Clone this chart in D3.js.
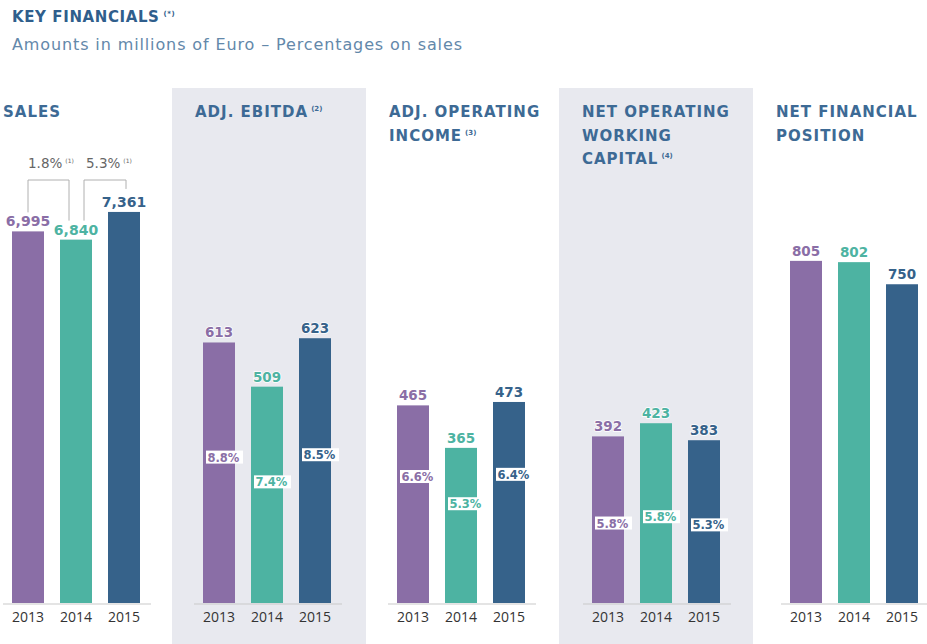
<!DOCTYPE html>
<html>
<head>
<meta charset="utf-8">
<script src="https://cdn.jsdelivr.net/npm/d3@7"></script>
<style>
  body { margin: 0; background: #fff; }
  svg { display: block; font-family: "DejaVu Sans", sans-serif; }
</style>
</head>
<body>
<svg id="chart" width="927" height="644"></svg>
<script>
// data
const years = ["2013", "2014", "2015"];
const sales = [6995, 6840, 7361];
const ebitda = [613, 509, 623];
const operatingIncome = [465, 365, 473];
const workingCapital = [392, 423, 383];
const financialPosition = [805, 802, 750];
const ebitdaPct = [8.8, 7.4, 8.5];
const operatingPct = [6.6, 5.3, 6.4];
const workingCapitalPct = [5.8, 5.8, 5.3];
const salesGrowth = [1.8, 5.3];
const headings = [
  ["SALES"],
  ["ADJ. EBITDA"],
  ["ADJ. OPERATING", "INCOME"],
  ["NET OPERATING", "WORKING", "CAPITAL"],
  ["NET FINANCIAL", "POSITION"]
];
const headingNotes = ["", "(2)", "(3)", "(4)", ""];

const colors = ["#8a6ea6", "#4db3a2", "#36628a"];
const headColor = "#3d6a95";

const svg = d3.select("#chart");

// title
const title = svg.append("text").attr("x", 12).attr("y", 22)
  .attr("fill", "#2f5e8c").attr("font-weight", "bold")
  .attr("font-size", 15).attr("letter-spacing", 0.6);
title.append("tspan").text("KEY FINANCIALS");
title.append("tspan").attr("dx", 4).attr("dy", -6).attr("font-size", 7).text("(*)");

svg.append("text").attr("x", 12).attr("y", 50)
  .attr("fill", "#6388aa").attr("font-size", 16)
  .attr("textLength", 450).attr("lengthAdjust", "spacing")
  .text("Amounts in millions of Euro \u2013 Percentages on sales");

// panel layout
const panelEdges = [0, 172, 366, 559, 753, 927];
const barStarts = [12, 203, 397, 592, 790];
const shaded = [false, true, false, true, false];
const pctAt = [0, 0.44, 0.36, 0.52, 0];

const base = 603;
const ySales = d3.scaleLinear().domain([0, 8000]).range([base, 178]);
const yOther = d3.scaleLinear().domain([0, 1000]).range([base, 178]);

const panelData = [
  { values: sales, pct: null, y: ySales, fmt: d3.format(",") },
  { values: ebitda, pct: ebitdaPct, y: yOther, fmt: d3.format("d") },
  { values: operatingIncome, pct: operatingPct, y: yOther, fmt: d3.format("d") },
  { values: workingCapital, pct: workingCapitalPct, y: yOther, fmt: d3.format("d") },
  { values: financialPosition, pct: null, y: yOther, fmt: d3.format("d") }
];

panelData.forEach((p, i) => {
  const g = svg.append("g");
  if (shaded[i]) {
    g.append("rect").attr("x", panelEdges[i]).attr("y", 88)
      .attr("width", panelEdges[i + 1] - panelEdges[i]).attr("height", 644 - 88)
      .attr("fill", "#e8e9ef");
  }

  // heading
  const head = g.append("text").attr("fill", headColor).attr("font-weight", "bold")
    .attr("font-size", 15).attr("letter-spacing", 1);
  headings[i].forEach((line, k) => {
    head.append("tspan").attr("x", panelEdges[i] + (i === 0 ? 3 : 23))
      .attr("y", 117 + k * 23.5).text(line);
  });
  if (headingNotes[i]) {
    head.append("tspan").attr("dx", 3).attr("dy", -6).attr("font-size", 7)
      .attr("letter-spacing", 0).text(headingNotes[i]);
  }

  const x = d3.scaleBand().domain(years)
    .range([barStarts[i], barStarts[i] + 128]).paddingInner(1 / 3).paddingOuter(0);

  // baseline
  g.append("line").attr("x1", barStarts[i] - 9).attr("x2", Math.min(927, barStarts[i] + 139))
    .attr("y1", base + 1).attr("y2", base + 1)
    .attr("stroke", "#c9c9c9").attr("stroke-width", 1);

  g.selectAll("rect.bar").data(p.values).join("rect").attr("class", "bar")
    .attr("x", (d, j) => x(years[j])).attr("width", x.bandwidth())
    .attr("y", d => p.y(d)).attr("height", d => base - p.y(d))
    .attr("fill", (d, j) => colors[j]);

  g.selectAll("text.val").data(p.values).join("text").attr("class", "val")
    .attr("x", (d, j) => x(years[j]) + x.bandwidth() / 2)
    .attr("y", d => p.y(d) - 5)
    .attr("text-anchor", "middle").attr("font-weight", "bold")
    .attr("font-size", i === 0 ? 14 : 13.5)
    .attr("fill", (d, j) => colors[j])
    .attr("stroke", "#fff").attr("stroke-width", 1.5).attr("paint-order", "stroke")
    .text(d => p.fmt(d));

  g.selectAll("text.year").data(years).join("text").attr("class", "year")
    .attr("x", d => x(d) + x.bandwidth() / 2).attr("y", 622)
    .attr("text-anchor", "middle").attr("font-size", 14)
    .attr("font-family", "'Open Sans', sans-serif")
    .attr("fill", "#333").text(d => d);

  if (p.pct) {
    const tags = g.selectAll("g.pct").data(p.pct).join("g").attr("class", "pct")
      .attr("transform", (d, j) => {
        const top = p.y(p.values[j]);
        const cy = top + (base - top) * pctAt[i];
        return `translate(${x(years[j]) + 3},${cy})`;
      });
    tags.append("rect").attr("x", 0).attr("y", -6.5).attr("width", 37).attr("height", 13)
      .attr("fill", "#fff");
    tags.append("text").attr("x", 1.5).attr("y", 4.5).attr("font-size", 11.5)
      .attr("font-weight", 600)
      .attr("fill", (d, j) => colors[j])
      .text(d => d3.format(".1f")(d) + "%");
  }

  // sales growth brackets
  if (i === 0) {
    const c = years.map(yr => x(yr) + x.bandwidth() / 2);
    const spans = [[c[0], c[1] - 7], [c[1] + 8, c[2] + 2]];
    salesGrowth.forEach((gr, k) => {
      const [x1, x2] = spans[k];
      const yl = p.y(p.values[k]) - 19;
      const yr = p.y(p.values[k + 1]) - (k === 1 ? 23 : 19);
      g.append("path")
        .attr("d", `M${x1},${yl}V180H${x2}V${yr}`)
        .attr("fill", "none").attr("stroke", "#b0b0b0").attr("stroke-width", 1);
      const t = g.append("text").attr("x", x1 + (k === 0 ? 0 : 2)).attr("y", 168)
        .attr("font-size", 13.5).attr("fill", "#666");
      t.append("tspan").text(d3.format(".1f")(gr) + "%");
      t.append("tspan").attr("dx", 3).attr("dy", -5).attr("font-size", 6).text("(1)");
    });
  }
});
</script>
</body>
</html>
